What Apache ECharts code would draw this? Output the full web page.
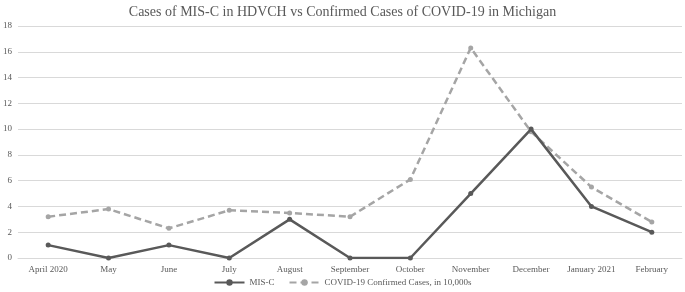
<!DOCTYPE html>
<html>
<head>
<meta charset="utf-8">
<script src="https://cdn.jsdelivr.net/npm/echarts@6/dist/echarts.min.js"></script>
<style>
  html, body { margin: 0; padding: 0; background: #fff; }
  #chart { width: 685px; height: 292px; }
</style>
</head>
<body>
<div id="chart"></div>
<script>
// months on the x axis
const months = ['April 2020', 'May', 'June', 'July', 'August', 'September', 'October',
  'November', 'December', 'January 2021', 'February'];
// MIS-C cases at HDVCH
const misc = [1, 0, 1, 0, 3, 0, 0, 5, 10, 4, 2];
// Michigan confirmed cases, in 10,000s
const covid = [3.2, 3.8, 2.3, 3.7, 3.5, 3.2, 6.1, 16.3, 9.8, 5.5, 2.8];

const chart = echarts.init(document.getElementById('chart'));
const font = '"Liberation Serif", "Times New Roman", serif';

chart.setOption({
  animation: false,
  title: {
    text: 'Cases of MIS-C in HDVCH vs Confirmed Cases of COVID-19 in Michigan',
    left: 'center', top: 0,
    textStyle: { fontFamily: font, fontSize: 14, fontWeight: 'normal', color: '#595959' }
  },
  legend: {
    bottom: 0, left: 'center', itemWidth: 30, itemHeight: 8, itemGap: 14,
    textStyle: { fontFamily: font, fontSize: 9, color: '#595959' },
    data: ['MIS-C', 'COVID-19 Confirmed Cases, in 10,000s']
  },
  grid: { left: 16, right: 3, top: 26, bottom: 34 },
  xAxis: {
    type: 'category', data: months, boundaryGap: true,
    axisLine: { lineStyle: { color: '#d9d9d9' } },
    axisTick: { show: false },
    axisLabel: { fontFamily: font, fontSize: 9, color: '#595959', margin: 7, interval: 0 }
  },
  yAxis: {
    type: 'value', min: 0, max: 18, interval: 2,
    axisLine: { show: false }, axisTick: { show: false },
    axisLabel: { fontFamily: font, fontSize: 9, color: '#595959', margin: 6 },
    splitLine: { lineStyle: { color: '#d9d9d9' } }
  },
  series: [
    {
      name: 'MIS-C', type: 'line', data: misc, z: 3,
      symbol: 'circle', symbolSize: 5,
      lineStyle: { color: '#595959', width: 2.5 },
      itemStyle: { color: '#595959' }
    },
    {
      name: 'COVID-19 Confirmed Cases, in 10,000s', type: 'line', data: covid, z: 2,
      symbol: 'circle', symbolSize: 5,
      lineStyle: { color: '#a5a5a5', width: 2.5, type: [7, 4] },
      itemStyle: { color: '#a5a5a5' }
    }
  ]
});
</script>
</body>
</html>
